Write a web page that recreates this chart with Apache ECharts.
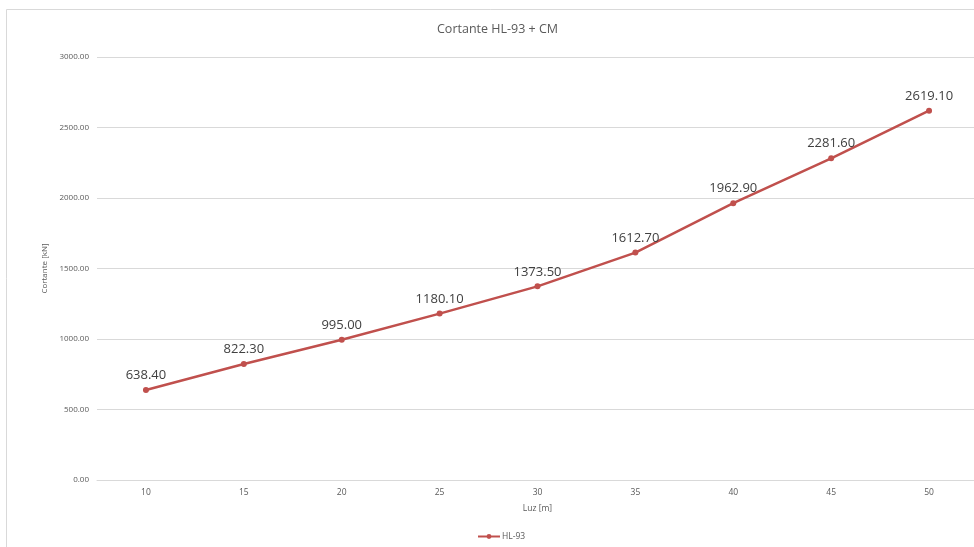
<!DOCTYPE html>
<html>
<head>
<meta charset="utf-8">
<script src="https://cdn.jsdelivr.net/npm/echarts@6/dist/echarts.min.js"></script>
<style>
  html, body { margin: 0; padding: 0; background: #fff; }
  #chart { width: 974px; height: 547px; }
</style>
</head>
<body>
<div id="chart"></div>
<script>
// Span lengths (m) and shear values (kN)
const luz = ['10', '15', '20', '25', '30', '35', '40', '45', '50'];
const cortanteHL93 = [638.40, 822.30, 995.00, 1180.10, 1373.50, 1612.70, 1962.90, 2281.60, 2619.10];

const chart = echarts.init(document.getElementById('chart'), null, { renderer: 'canvas' });
const font = '"Open Sans", Calibri, sans-serif';

chart.setOption({
  backgroundColor: '#ffffff',
  animation: false,
  graphic: [{
    type: 'rect',
    shape: { x: 6.5, y: 9.5, width: 980, height: 560 },
    style: { fill: 'none', stroke: '#d9d9d9', lineWidth: 1 },
    silent: true
  }],
  title: {
    text: 'Cortante HL-93 + CM',
    left: 432, top: 18,
    textStyle: { fontFamily: font, fontSize: 12.5, fontWeight: 'normal', color: '#595959' }
  },
  legend: {
    data: ['HL-93'],
    bottom: 1, left: 472,
    itemWidth: 22, itemHeight: 6,
    itemGap: 4,
    textStyle: { fontFamily: font, fontSize: 8.5, color: '#595959', padding: [0, 0, 0, -3] }
  },
  grid: { left: 97, top: 57, width: 881, height: 423, containLabel: false, outerBoundsMode: 'none' },
  xAxis: {
    type: 'category',
    data: luz,
    boundaryGap: true,
    name: 'Luz [m]',
    nameLocation: 'middle',
    nameGap: 24,
    nameTextStyle: { fontFamily: font, fontSize: 8.5, color: '#595959' },
    axisLine: { show: true, lineStyle: { color: '#d9d9d9' } },
    axisTick: { show: false },
    axisLabel: { fontFamily: font, fontSize: 8.5, color: '#595959', margin: 8 }
  },
  yAxis: {
    type: 'value',
    min: 0, max: 3000, interval: 500,
    name: 'Cortante [kN]',
    nameLocation: 'middle',
    nameGap: 47,
    nameRotate: 90,
    nameTextStyle: { fontFamily: font, fontSize: 8, color: '#595959' },
    axisLine: { show: false },
    axisTick: { show: false },
    splitLine: { lineStyle: { color: '#d9d9d9', width: 1 } },
    axisLabel: {
      fontFamily: font, fontSize: 8, color: '#595959', margin: 8,
      formatter: v => v.toFixed(2)
    }
  },
  series: [{
    name: 'HL-93',
    type: 'line',
    data: cortanteHL93,
    symbol: 'circle',
    symbolSize: 6,
    lineStyle: { color: '#c0504d', width: 2.5 },
    itemStyle: { color: '#c0504d' },
    label: {
      show: true, position: 'top', distance: 5,
      fontFamily: font, fontSize: 13, color: '#404040',
      formatter: p => p.value.toFixed(2)
    }
  }]
});
</script>
</body>
</html>
